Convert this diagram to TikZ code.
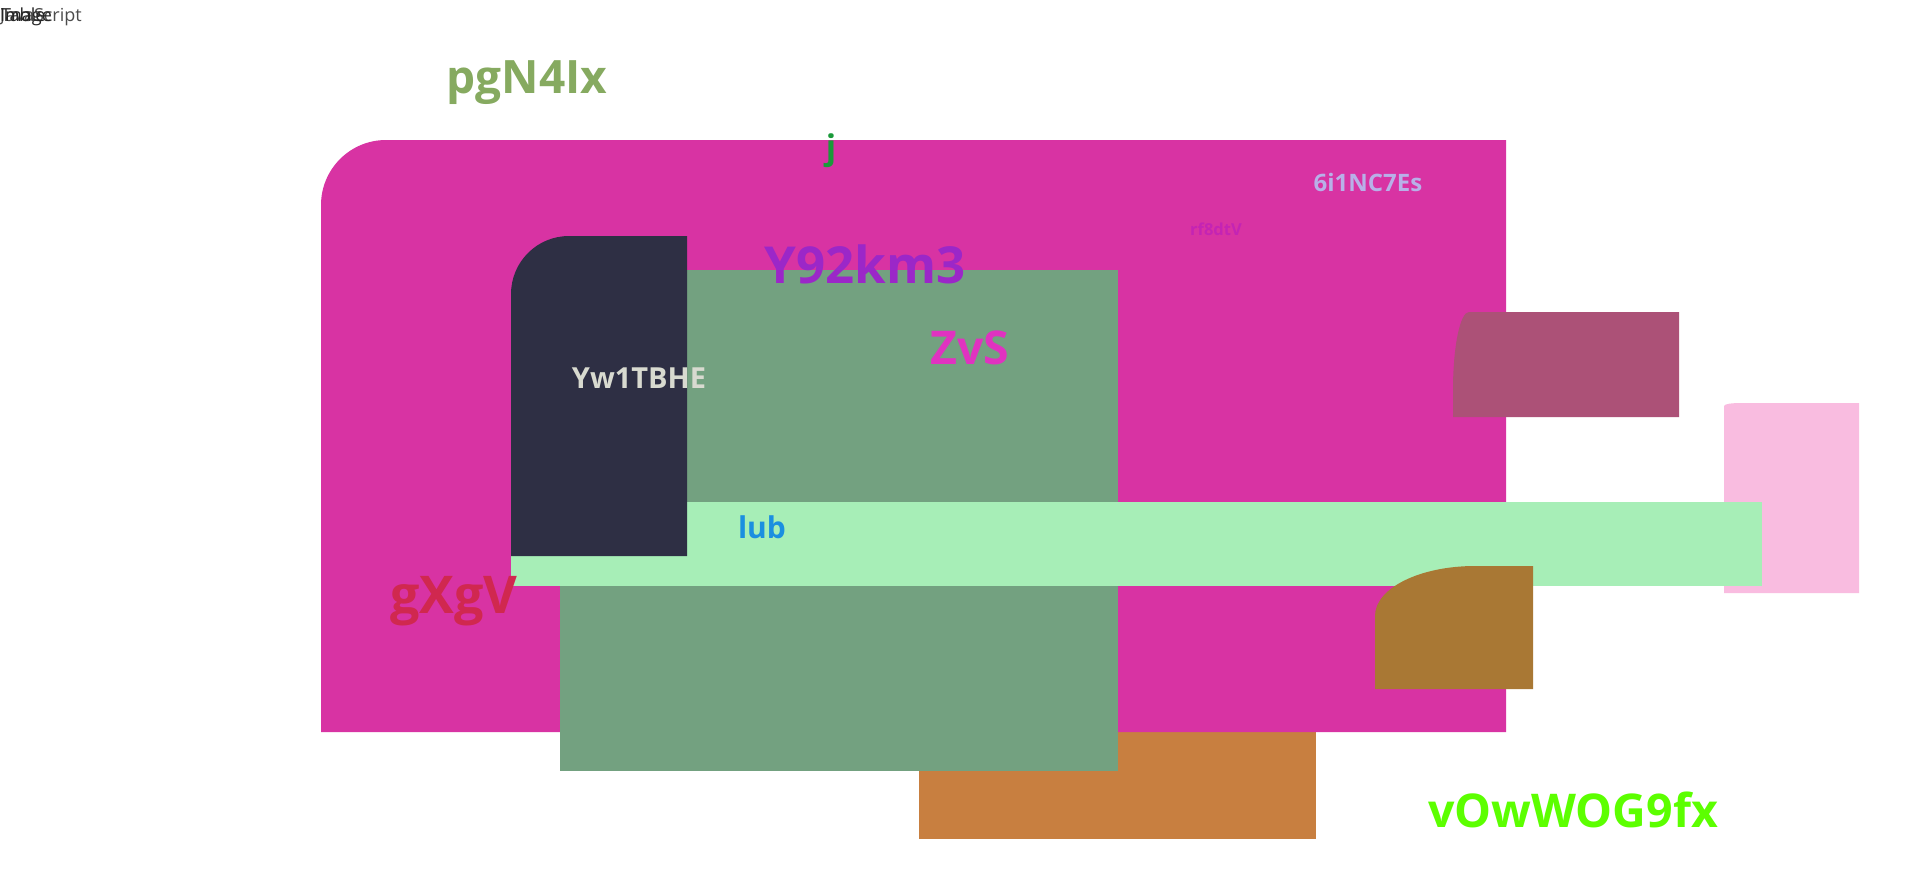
\documentclass[tikz,border=0pt]{standalone}
\usepackage{fontspec}
\setmainfont{Open Sans}
\usepackage{tikz}

\definecolor{boxmagenta}{HTML}{D833A3}
\definecolor{boxdark}{HTML}{2E2F44}
\definecolor{boxsage}{HTML}{73A180}
\definecolor{boxmint}{HTML}{A7EEB7}
\definecolor{boxmauve}{HTML}{AC5177}
\definecolor{boxpink}{HTML}{F9BCE0}
\definecolor{boxbrown}{HTML}{A97834}
\definecolor{boxorange}{HTML}{C87F40}

\tikzset{
  lbl/.style={inner sep=0pt, anchor=base},
  fs/.style={font=\fontsize{#1}{#1}\selectfont\bfseries},
  corner/.style={inner sep=0pt, anchor=base west, font=\fontsize{18}{18}\selectfont}
}

\begin{document}
\begin{tikzpicture}[x=1pt,y=-1pt]
    \useasboundingbox (0,0) rectangle (1920,870);
    \fill[white] (0,0) rectangle (1920,870);

    % shapes, back to front
    \fill[boxorange] (919,700) rectangle (1316,839);
    \fill[boxpink] (1724,593) -- (1724,406) .. controls (1724,404) and (1732,403) .. (1741,403) -- (1859,403) -- (1859,593) -- cycle;
    \fill[boxmagenta] (321,732) [rounded corners=65pt] -- (321,140) [sharp corners] -- (1506,140) -- (1506,732) -- cycle;
    \fill[boxmauve] (1453,417) -- (1453,390) .. controls (1453,347) and (1460,312) .. (1469,312) -- (1679,312) -- (1679,417) -- cycle;
    \fill[boxsage] (560,270) rectangle (1118,771);
    \fill[boxmint] (511,502) rectangle (1762,586);
    \fill[boxdark] (511,556) [rounded corners=58pt] -- (511,236) [sharp corners] -- (687,236) -- (687,556) -- cycle;
    \fill[boxbrown] (1375,689) -- (1375,616) .. controls (1375,588) and (1420,566) .. (1475,566) -- (1533,566) -- (1533,689) -- cycle;

    % labels
    \node[lbl, fs=46, text={rgb,255:red,134;green,170;blue,96}] (title) at (527,93) {pgN4Ix};
    \node[lbl, fs=34, text={rgb,255:red,26;green,154;blue,58}] (jlbl) at (831,159) {j};
    \node[lbl, fs=24, text={rgb,255:red,184;green,176;blue,232}] (code) at (1368,191) {6i1NC7Es};
    \node[lbl, fs=16.5, text={rgb,255:red,196;green,36;blue,180}] (small) at (1216,235) {rf8dtV};
    \node[lbl, fs=51, text={rgb,255:red,155;green,39;blue,200}] (ytag) at (865,283) {Y92km3};
    \node[lbl, fs=46.5, text={rgb,255:red,224;green,50;blue,192}] (zvs) at (970,364) {ZvS};
    \node[lbl, fs=29, text={rgb,255:red,216;green,218;blue,208}] (ywtag) at (639,388) {Yw1TBHE};
    \node[lbl, fs=30, text={rgb,255:red,27;green,143;blue,224}] (lub) at (762,538) {lub};
    \node[lbl, fs=52, text={rgb,255:red,208;green,40;blue,79}] (gxgv) at (454,613) {gXgV};
    \node[lbl, fs=46.5, text={rgb,255:red,92;green,255;blue,0}] (vow) at (1573,827) {vOwWOG9fx};

    % stacked words in the corner
    \node[corner, text=black!70] (scr) at (0,21) {JavaScript};
    \node[corner, text=black!85] (img) at (0,21) {Image};
    \node[corner, text=black!85] (tbl) at (1,21) {Table};
\end{tikzpicture}
\end{document}
